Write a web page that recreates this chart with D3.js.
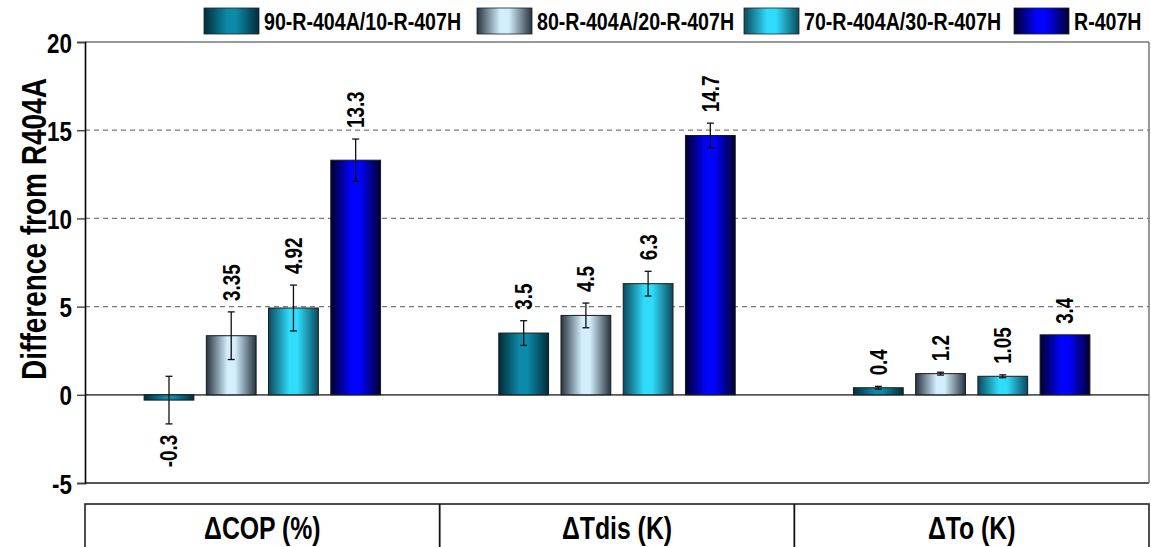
<!DOCTYPE html>
<html>
<head>
<meta charset="utf-8">
<script src="https://cdn.jsdelivr.net/npm/d3@7/dist/d3.min.js"></script>
<style>
  html, body { margin: 0; padding: 0; background: #fff; }
  svg { display: block; }
  text { font-family: "Liberation Sans", Arial, sans-serif; font-weight: bold; fill: #000; }
</style>
</head>
<body>
<svg id="chart" width="1151" height="547"></svg>
<script>
// Performance differences of each refrigerant blend relative to R404A
const categories = ["\u0394COP (%)", "\u0394Tdis (K)", "\u0394To (K)"];
const seriesNames = ["90-R-404A/10-R-407H", "80-R-404A/20-R-407H", "70-R-404A/30-R-407H", "R-407H"];

const blend90 = [-0.3, 3.5, 0.4];
const blend80 = [3.35, 4.5, 1.2];
const blend70 = [4.92, 6.3, 1.05];
const r407h   = [13.3, 14.7, 3.4];

const err90 = [1.35, 0.7, 0.08];
const err80 = [1.35, 0.7, 0.08];
const err70 = [1.3, 0.7, 0.08];
const err407 = [1.2, 0.7, 0];

const yTicks = [-5, 0, 5, 10, 15, 20];
const gridValues = [5, 10, 15];

// Condensed lettering: glyphs squeezed horizontally
const NARROW = 0.8;

// Bar shading: dark edges, bright centre
const shades = [
  { edge: "#022c3a", mid: "#0c8aa8" },
  { edge: "#26333f", mid: "#d3eefc" },
  { edge: "#0a4a5c", mid: "#30dcfc" },
  { edge: "#00002e", mid: "#0202ff" }
];

const allValues = [blend90, blend80, blend70, r407h];
const allErrors = [err90, err80, err70, err407];

const rows = [];
categories.forEach((c, ci) => {
  seriesNames.forEach((s, si) => {
    rows.push({ cat: c, series: s, si: si, value: allValues[si][ci], err: allErrors[si][ci] });
  });
});

const svg = d3.select("#chart");
const plot = { left: 85, right: 1149, top: 42, bottom: 483 };

const y = d3.scaleLinear().domain([-5, 20]).range([plot.bottom, plot.top]);
const x0 = d3.scaleBand().domain(categories).range([plot.left, plot.right]).padding(0);
const x1 = d3.scaleBand().domain(seriesNames).range([0, x0.bandwidth()])
  .paddingInner(0.2).paddingOuter(0.95);

// Gradients
const defs = svg.append("defs");
shades.forEach((sh, i) => {
  const g = defs.append("linearGradient").attr("id", "shade" + i)
    .attr("x1", "0%").attr("x2", "100%").attr("y1", "0%").attr("y2", "0%");
  g.append("stop").attr("offset", "0%").attr("stop-color", sh.edge);
  g.append("stop").attr("offset", "42%").attr("stop-color", sh.mid);
  g.append("stop").attr("offset", "58%").attr("stop-color", sh.mid);
  g.append("stop").attr("offset", "100%").attr("stop-color", sh.edge);
});

// Dashed grid lines
svg.append("g").selectAll("line").data(gridValues).join("line")
  .attr("x1", plot.left).attr("x2", plot.right)
  .attr("y1", d => y(d)).attr("y2", d => y(d))
  .attr("stroke", "#7a7a7a").attr("stroke-width", 1.2)
  .attr("stroke-dasharray", "5,4");

// Frame
svg.append("line").attr("x1", plot.left).attr("x2", plot.right)
  .attr("y1", plot.top).attr("y2", plot.top).attr("stroke", "#777").attr("stroke-width", 1.5);
svg.append("line").attr("x1", plot.left).attr("x2", plot.right)
  .attr("y1", plot.bottom).attr("y2", plot.bottom).attr("stroke", "#555").attr("stroke-width", 2);
svg.append("line").attr("x1", plot.right).attr("x2", plot.right)
  .attr("y1", plot.top).attr("y2", plot.bottom).attr("stroke", "#777").attr("stroke-width", 1.5);
svg.append("line").attr("x1", plot.left).attr("x2", plot.right)
  .attr("y1", y(0)).attr("y2", y(0)).attr("stroke", "#555").attr("stroke-width", 1.8);

// Bars
const bars = svg.append("g");
bars.selectAll("rect").data(rows).join("rect")
  .attr("x", d => x0(d.cat) + x1(d.series))
  .attr("width", x1.bandwidth())
  .attr("y", d => y(Math.max(0, d.value)))
  .attr("height", d => Math.abs(y(d.value) - y(0)))
  .attr("fill", d => "url(#shade" + d.si + ")")
  .attr("stroke", "#1a1a1a").attr("stroke-width", 1);

// Error bars
const eb = svg.append("g").attr("stroke", "#111").attr("stroke-width", 1.3);
rows.filter(d => d.err > 0).forEach(d => {
  const cx = x0(d.cat) + x1(d.series) + x1.bandwidth() / 2;
  const yt = y(d.value + d.err), yb = y(d.value - d.err);
  eb.append("line").attr("x1", cx).attr("x2", cx).attr("y1", yt).attr("y2", yb);
  eb.append("line").attr("x1", cx - 3.5).attr("x2", cx + 3.5).attr("y1", yt).attr("y2", yt);
  eb.append("line").attr("x1", cx - 3.5).attr("x2", cx + 3.5).attr("y1", yb).attr("y2", yb);
});

// Value labels, rotated
svg.append("g").selectAll("text").data(rows).join("text")
  .attr("transform", d => {
    const cx = x0(d.cat) + x1(d.series) + x1.bandwidth() / 2;
    const yy = d.value >= 0 ? y(d.value + d.err) - 11 : y(d.value - d.err) + 11;
    return `translate(${cx},${yy}) rotate(-90) scale(${NARROW},1)`;
  })
  .attr("text-anchor", d => d.value >= 0 ? "start" : "end")
  .attr("dy", "0.36em")
  .style("font-size", "23.5px")
  .text(d => String(d.value));

// Left axis
const yAxis = d3.axisLeft(y).tickValues(yTicks).tickSize(8).tickPadding(5).tickFormat(d => String(d));
const ax = svg.append("g").attr("transform", `translate(${plot.left},0)`).call(yAxis);
ax.select(".domain").attr("stroke", "#000").attr("stroke-width", 1.6);
ax.selectAll(".tick line").attr("stroke", "#444").attr("stroke-width", 1.4);
ax.selectAll(".tick text")
  .attr("x", null).attr("dy", null)
  .attr("transform", `translate(-13,0) scale(${NARROW},1)`)
  .attr("dy", "0.36em")
  .style("font-size", "28px").attr("fill", "#000");

// Y title
svg.append("text")
  .attr("transform", `translate(33,229) rotate(-90) scale(${NARROW},1)`)
  .attr("text-anchor", "middle").attr("dy", "0.36em")
  .style("font-size", "35px")
  .text("Difference from R404A");

// Category table under the plot
const table = svg.append("g");
table.append("rect").attr("x", plot.left).attr("y", 504)
  .attr("width", plot.right - plot.left).attr("height", 80)
  .attr("fill", "none").attr("stroke", "#222").attr("stroke-width", 1.6);
table.selectAll("line.div").data(categories.slice(1)).join("line")
  .attr("x1", d => x0(d)).attr("x2", d => x0(d))
  .attr("y1", 504).attr("y2", 547).attr("stroke", "#111").attr("stroke-width", 1.8);
table.selectAll("text").data(categories).join("text")
  .attr("transform", d => `translate(${x0(d) + x0.bandwidth() / 2},528) scale(${NARROW},1)`)
  .attr("text-anchor", "middle").attr("dy", "0.36em")
  .style("font-size", "31px")
  .text(d => d);

// Legend
const legendX = [204, 477, 744, 1014];
const lg = svg.append("g");
seriesNames.forEach((s, i) => {
  lg.append("rect").attr("x", legendX[i]).attr("y", 8).attr("width", 55).attr("height", 26)
    .attr("fill", "url(#shade" + i + ")").attr("stroke", "#222").attr("stroke-width", 0.8);
  lg.append("text").attr("transform", `translate(${legendX[i] + 60},21) scale(${NARROW},1)`)
    .attr("dy", "0.36em")
    .style("font-size", "24.5px").text(s);
});
</script>
</body>
</html>
